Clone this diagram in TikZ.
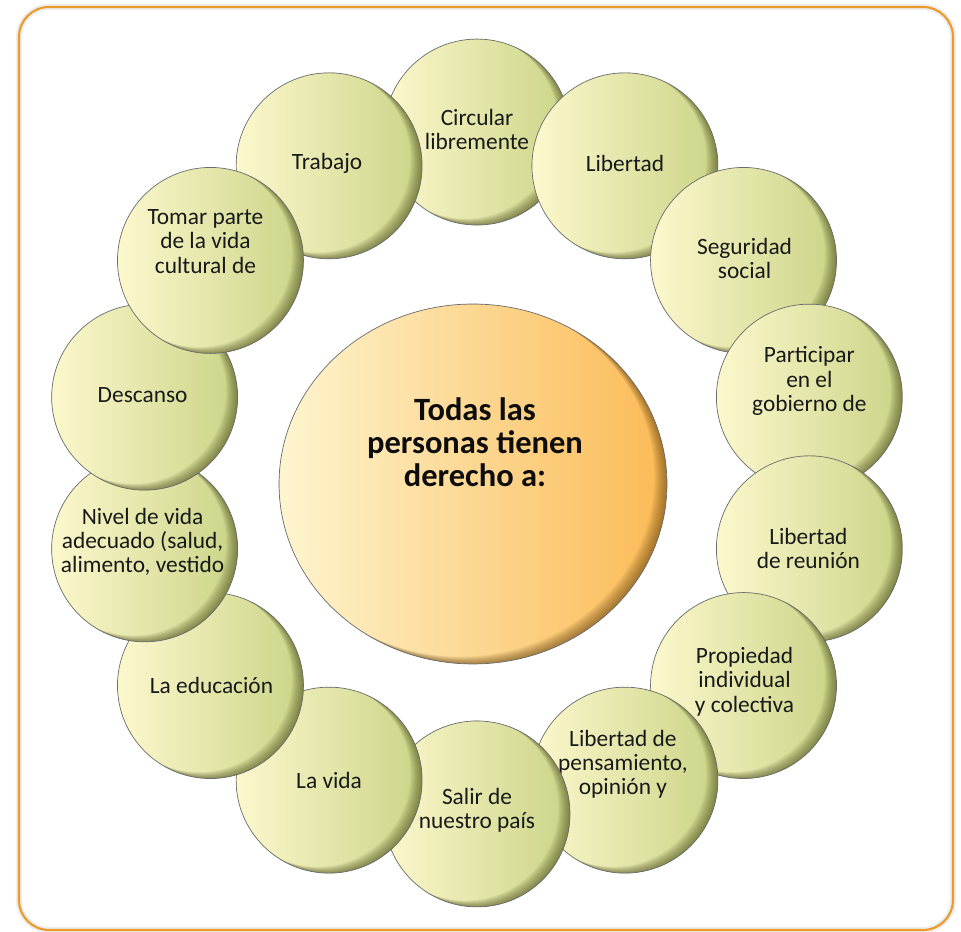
\documentclass[tikz,border=0pt]{standalone}
\usepackage{fontspec}
\setmainfont{Carlito}
\usetikzlibrary{shapes.geometric,calc}
\definecolor{drFrame}{HTML}{EC9A29}
\definecolor{drBubL}{HTML}{FCF8CD}
\definecolor{drBubR}{HTML}{CBD487}
\definecolor{drBubS}{HTML}{3F4010}
\definecolor{drHubL}{HTML}{FEF5D0}
\definecolor{drHubR}{HTML}{FBBA55}
\definecolor{drHubS}{HTML}{5A3A08}
\definecolor{drEdge}{HTML}{6B6B6B}

\begin{document}
\begin{tikzpicture}[
  x=0.02cm, y=0.02cm,
  bubble/.style={circle, draw=drEdge, line width=0.4pt, minimum size=3.72cm, inner sep=0pt,
    left color=drBubL, right color=drBubR,
    path picture={
      \foreach \k in {1,...,12}
        \fill[drBubS, opacity=0.055, even odd rule]
          (path picture bounding box.south west) rectangle (path picture bounding box.north east)
          ([xshift=-\k*0.55pt, yshift=\k*0.3pt]path picture bounding box.center) circle (1.86cm);
    }},
  hub/.style={ellipse, draw=drEdge, line width=0.4pt, minimum width=7.76cm, minimum height=7.2cm, inner sep=0pt,
    left color=drHubL, right color=drHubR,
    path picture={
      \foreach \k in {1,...,12}
        \fill[drHubS, opacity=0.055, even odd rule]
          (path picture bounding box.south west) rectangle (path picture bounding box.north east)
          ([xshift=-\k*0.6pt, yshift=\k*0.35pt]path picture bounding box.center) ellipse [x radius=3.88cm, y radius=3.6cm];
    }},
  bubtext/.style={align=center, font=\fontsize{13.3}{13.8}\selectfont, text=black!90},
  hubtext/.style={align=center, font=\bfseries\fontsize{18.5}{18.8}\selectfont, text=black!95}
]
  \useasboundingbox (0,0) rectangle (961,932);
  \draw[black!7, line width=3.5pt, rounded corners=0.6cm] (19,2) rectangle (953,925);
  \draw[drFrame, line width=1.2pt, rounded corners=0.6cm] (19,2) rectangle (953,925);

  \node[hub] (derechos) at (473,448) {};
  \node[hubtext] (derechos-t) at (475,490) {Todas las\\personas tienen\\derecho a:};

  \coordinate (ring) at (477,459);
  \foreach \i/\nm/\txt/\dx/\dy in {
      0/circular/{Circular\\libremente}/0/2.5,
      1/libertad/{Libertad}/0/2,
      2/seguridad/{Seguridad\\social}/1/2,
      3/participar/{Participar\\en el\\gobierno de}/0/16,
      4/reunion/{Libertad\\de reunión}/-1/0,
      5/propiedad/{Propiedad\\individual\\y colectiva}/1/4,
      6/pensamiento/{Libertad de\\pensamiento,\\opinión y}/-2/16,
      7/salir/{Salir de\\nuestro país}/0/4,
      8/vida/{La vida}/0/0,
      9/educacion/{La educación}/1/0,
      10/nivel/{Nivel de vida\\adecuado (salud,\\alimento, vestido}/-2/7,
      11/descanso/{Descanso}/-2/2,
      13/trabajo/{Trabajo}/-2/2,
      12/tomar/{Tomar parte\\de la vida\\cultural de}/-5/19} {
    \node[bubble] (\nm) at ($(ring)+(90-\i*360/14:6.82cm)$) {};
    \node[bubtext] (\nm-t) at ([xshift=\dx*0.02cm, yshift=\dy*0.02cm]\nm.center) {\txt};
  }
\end{tikzpicture}
\end{document}
